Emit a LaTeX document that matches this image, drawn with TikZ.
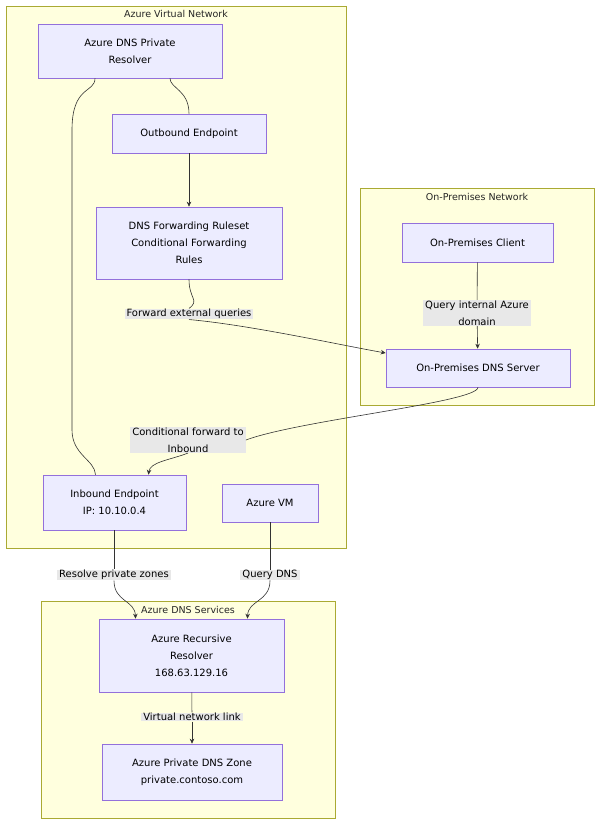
\documentclass[tikz,border=0pt]{standalone}
\usepackage{fontspec}
\setmainfont{DejaVu Sans}
\usetikzlibrary{positioning,arrows.meta}
\definecolor{clfill}{HTML}{FFFFDE}
\definecolor{clline}{HTML}{AAAA33}
\definecolor{ndfill}{HTML}{ECECFF}
\definecolor{ndline}{HTML}{9370DB}
\definecolor{lbfill}{HTML}{E8E8E8}
\tikzset{
  cluster/.style={draw=clline,fill=clfill,line width=0.6pt},
  clustertitle/.style={font=\fontsize{9.5}{11}\selectfont,text=black!85},
  box/.style={draw=ndline,fill=ndfill,line width=0.6pt,align=center,
    font=\fontsize{10}{17}\selectfont,inner sep=0pt},
  edgelabel/.style={fill=lbfill,align=center,font=\fontsize{10}{17}\selectfont,inner xsep=2pt,inner ysep=0.5pt},
  link/.style={draw=black!80,line width=0.6pt},
  flow/.style={link,-{Stealth[length=5pt,width=4.5pt]}}
}
\begin{document}
\begin{tikzpicture}[x=1pt,y=-1pt]
  \useasboundingbox (0,0) rectangle (600,826);
  % clusters
  \draw[cluster] (6,6) rectangle (346,548);
  \node[clustertitle] (vnettitle) at (176,14) {Azure Virtual Network};
  \draw[cluster] (360,188) rectangle (594,405);
  \node[clustertitle] (onpremtitle) at (477,197) {On-Premises Network};
  \draw[cluster] (41,601) rectangle (335,818);
  % nodes
  \node[box,minimum width=184pt,minimum height=54pt] (resolver) at (130,51) {Azure DNS Private\\Resolver};
  \node[box,minimum width=154pt,minimum height=39pt] (outbound) at (189,133.5) {Outbound Endpoint};
  \node[box,minimum width=186pt,minimum height=72pt] (ruleset) at (189,243) {DNS Forwarding Ruleset\\Conditional Forwarding\\Rules};
  \node[box,minimum width=151pt,minimum height=39pt] (client) at (477.5,242.5) {On-Premises Client};
  \node[box,minimum width=184pt,minimum height=38pt] (onpremdns) at (478,368) {On-Premises DNS Server};
  \node[box,minimum width=143pt,minimum height=55pt] (inbound) at (114.5,502.5) {Inbound Endpoint\\IP: 10.10.0.4};
  \node[box,minimum width=96pt,minimum height=38pt] (vm) at (270,503) {Azure VM};
  \node[box,minimum width=185pt,minimum height=73pt] (recursive) at (191.5,655.5) {Azure Recursive\\Resolver\\168.63.129.16};
  \node[box,minimum width=180pt,minimum height=56pt] (zone) at (192,772) {Azure Private DNS Zone\\private.contoso.com};
  \node[clustertitle] (dnstitle) at (188,610) {Azure DNS Services};
  % edge labels
  \node[edgelabel] (lbforward) at (189,314) {Forward external queries};
  \node[edgelabel] (lbquery) at (477,313) {Query internal Azure\\domain};
  \node[edgelabel] (lbcond) at (188,440) {Conditional forward to\\Inbound};
  \node[edgelabel] (lbresolve) at (114,575) {Resolve private zones};
  \node[edgelabel] (lbdns) at (270,575) {Query DNS};
  \node[edgelabel] (lbvnet) at (192,717) {Virtual network link};
  % connectors
  \draw[link] ([xshift=40pt]resolver.south) .. controls +(0,10) and (189,90) .. (outbound.north);
  \draw[link] ([xshift=-35pt]resolver.south) .. controls +(0,15) and (72,85) .. (72,130)
    -- (72,430) .. controls (72,455) and (95,460) .. ([xshift=-19pt]inbound.north);
  \draw[flow] (outbound) -- (ruleset);
  \draw[link] (ruleset.south) .. controls +(0,20) and (200,300) .. (lbforward.north);
  \draw[flow] (lbforward.south) .. controls (250,325) and (340,345) .. ([yshift=15pt]onpremdns.west);
  \draw[link] (client) -- (lbquery);
  \draw[flow] (lbquery) -- (onpremdns);
  \draw[link] (onpremdns.south) .. controls +(0,15) and (300,420) .. (lbcond.east);
  \draw[flow] (lbcond.south) .. controls (170,460) and (150,462) .. ([xshift=34pt]inbound.north);
  \draw[link] ([xshift=-0.5pt]inbound.south) -- (lbresolve);
  \draw[flow] (lbresolve.south) .. controls (114,602) and (135,600) .. ([xshift=-56pt]recursive.north);
  \draw[link] (vm) -- (lbdns);
  \draw[flow] (lbdns.south) .. controls (270,602) and (248,600) .. ([xshift=56pt]recursive.north);
  \draw[link] (recursive) -- (lbvnet);
  \draw[flow] (lbvnet) -- (zone);
\end{tikzpicture}
\end{document}
